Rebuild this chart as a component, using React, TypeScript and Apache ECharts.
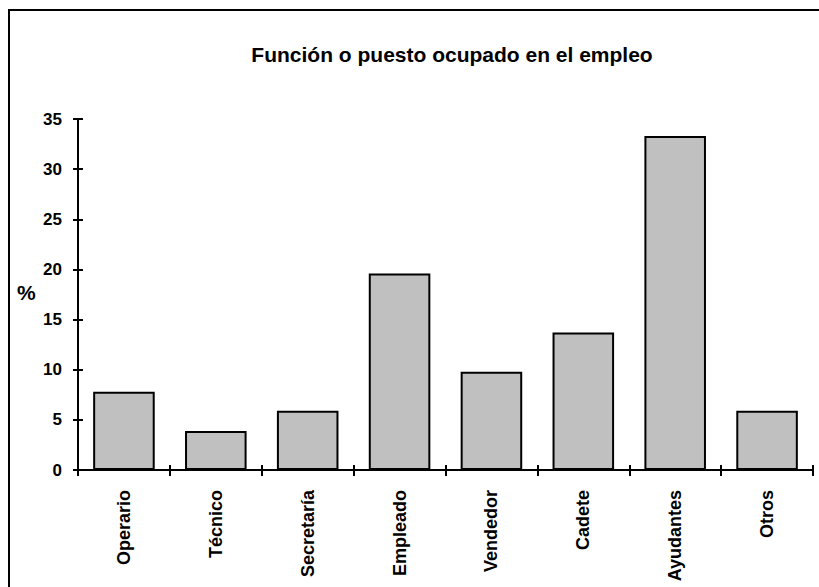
import React, { useEffect, useRef } from "react";
import * as echarts from "echarts";

const categories = ["Operario", "Técnico", "Secretaría", "Empleado", "Vendedor", "Cadete", "Ayudantes", "Otros"];
const values = [7.8, 3.9, 5.9, 19.6, 9.8, 13.7, 33.3, 5.9];
const yTicks = [0, 5, 10, 15, 20, 25, 30, 35];
const titleText = "Función o puesto ocupado en el empleo";
const yUnit = "%";

export default function App() {
  const ref = useRef<HTMLDivElement>(null);
  useEffect(() => {
    document.body.style.margin = "0";
    const chart = echarts.init(ref.current!, null, { renderer: "svg" });
    const font = "'Liberation Sans', Arial, sans-serif";
    chart.setOption({
      animation: false,
      backgroundColor: "#ffffff",
      title: {
        text: titleText,
        left: 447,
        textAlign: "center",
        top: 39,
        textStyle: { fontFamily: font, fontWeight: "bold", fontSize: 21, color: "#000" },
      },
      graphic: [
        {
          type: "rect",
          shape: { x: 9, y: 10, width: 830, height: 600 },
          style: { fill: "none", stroke: "#000", lineWidth: 2 },
          silent: true,
        },
        {
          type: "text",
          left: 17,
          top: 282,
          style: { text: yUnit, font: `bold 21px ${font}`, fill: "#000" },
        },
      ],
      grid: { left: 78, right: 6, top: 119, bottom: 117, containLabel: false },
      xAxis: [
        {
          type: "category",
          data: categories,
          axisLine: { lineStyle: { color: "#000", width: 2 } },
          axisTick: { show: true, length: 6, lineStyle: { color: "#000", width: 2 } },
          axisLabel: {
            rotate: 90,
            margin: 20,
            color: "#000",
            fontFamily: font,
            fontWeight: "bold",
            fontSize: 18,
          },
        },
        {
          type: "category",
          data: categories,
          position: "bottom",
          axisLine: { show: false },
          axisTick: { show: true, inside: true, length: 5, lineStyle: { color: "#000", width: 2 } },
          axisLabel: { show: false },
        },
      ],
      yAxis: [
        {
          type: "value",
          min: yTicks[0],
          max: yTicks[yTicks.length - 1],
          interval: 5,
          axisLine: { show: true, lineStyle: { color: "#000", width: 2 } },
          axisTick: { show: true, length: 5, lineStyle: { color: "#000", width: 2 } },
          splitLine: { show: false },
          axisLabel: {
            margin: 16,
            color: "#000",
            fontFamily: font,
            fontWeight: "bold",
            fontSize: 17,
          },
        },
        {
          type: "value",
          position: "left",
          min: yTicks[0],
          max: yTicks[yTicks.length - 1],
          interval: 5,
          axisLine: { show: false },
          axisTick: { show: true, inside: true, length: 5, lineStyle: { color: "#000", width: 2 } },
          splitLine: { show: false },
          axisLabel: { show: false },
        },
      ],
      series: [
        {
          type: "bar",
          data: values,
          xAxisIndex: 0,
          yAxisIndex: 0,
          barCategoryGap: "33%",
          itemStyle: { color: "#c0c0c0", borderColor: "#000", borderWidth: 2 },
        },
      ],
    });
    return () => chart.dispose();
  }, []);
  return <div ref={ref} style={{ width: 819, height: 587 }} />;
}
